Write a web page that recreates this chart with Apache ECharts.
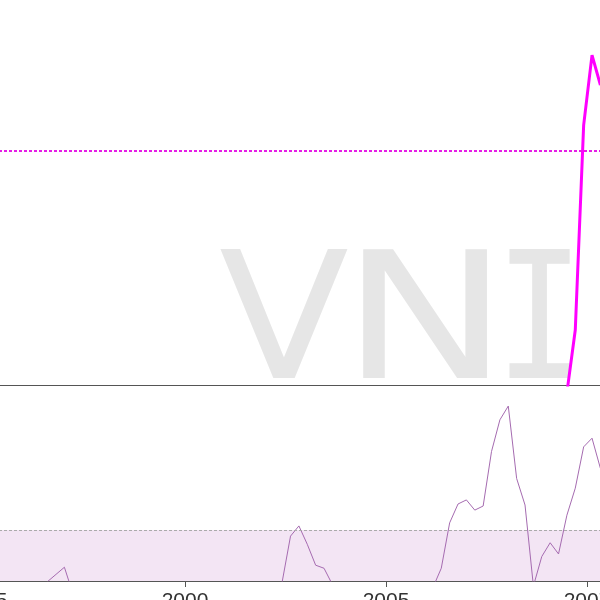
<!DOCTYPE html>
<html><head><meta charset="utf-8">
<script src="https://cdn.jsdelivr.net/npm/echarts@6/dist/echarts.min.js"></script>
<style>html,body{margin:0;padding:0;background:#fff}#c{width:600px;height:600px}</style>
</head><body><div id="c"></div><script>
// time positions (x axis units), one per observation
const tStart = 123, tStep = 5;
// tick labels
const tickValues = [120, 240, 360, 480];
const tickTexts = ['1995', '2000', '2005', '2007'];
// upper panel: index line (values below the panel floor are not visible)
const indexValues = [
 '-','-','-','-','-','-','-','-','-','-',
 '-','-','-','-','-','-','-','-','-','-',
 '-','-','-','-','-','-','-','-','-','-',
 '-','-','-','-','-','-','-','-','-','-',
 '-','-','-','-','-','-','-','-','-','-',
 '-','-','-','-','-','-','-','-','-','-',
 '-','-','-','-','-','-','-','-','-',-2,
 14.3,67.5,85.7,77.9,'-'
];
const indexThreshold = 60.8;
// lower panel oscillator
const oscValues = [
 '-','-','-','-','-','-','-',19.9,21.3,22.7,
 17.6,'-','-','-','-','-','-','-','-','-',
 '-','-','-','-','-','-','-','-','-','-',
 '-','-','-','-','-',19.8,28.8,30.8,27.2,23.1,
 22.5,19.3,'-','-','-','-','-','-','-','-',
 '-','-','-',18.7,22.5,31.4,35.1,35.9,33.9,34.7,
 45.4,51.6,54.3,40.1,34.9,19.0,24.8,27.5,25.3,32.9,
 38.2,46.3,48.0,42.1,39
];
const oscBandLow = 20, oscBandHigh = 30;
const watermark = ['V', 'N', 'I'];

const t = indexValues.map((_, i) => tStart + i * tStep);
const pairs = (arr) => arr.map((v, i) => [t[i], v]);

const chart = echarts.init(document.getElementById('c'));
const xCommon = {type: 'value', min: 120, max: 490, interval: 120, splitLine: {show: false}};
chart.setOption({
  animation: false,
  grid: [
    {left: -16, width: 619.75, top: 0, height: 385, outerBoundsMode: 'none', containLabel: false},
    {left: -16, width: 619.75, top: 377, height: 204, outerBoundsMode: 'none', containLabel: false}
  ],
  xAxis: [
    Object.assign({gridIndex: 0, axisLine: {lineStyle: {color: '#555', width: 1}}, axisTick: {show: false}, axisLabel: {show: false}}, xCommon),
    Object.assign({gridIndex: 1, axisLine: {lineStyle: {color: '#555', width: 1}},
      axisTick: {show: true, length: 6, lineStyle: {color: '#555'}},
      axisLabel: {show: true, margin: 10, fontSize: 21, color: '#333', fontFamily: 'Liberation Sans', hideOverlap: false,
        formatter: (v) => { const k = tickValues.indexOf(v); return k >= 0 ? tickTexts[k] : ''; }}}, xCommon)
  ],
  yAxis: [
    {gridIndex: 0, type: 'value', min: 0, max: 100, show: false},
    {gridIndex: 1, type: 'value', min: 20, max: 60, show: false}
  ],
  graphic: watermark.map((ch, i) => ({
    type: 'text', z: 0,
    x: [284, 425, 539.5][i], y: 328.6, scaleX: [1, 1.18, 0.78][i], scaleY: 0.93, originX: 0, originY: 56.4,
    style: {text: ch, x: 0, y: 0, fill: '#e6e6e6',
      font: '190px ' + (i === 2 ? '"DejaVu Sans Mono"' : '"DejaVu Sans"'),
      textAlign: 'center', textVerticalAlign: 'middle', align: 'center', verticalAlign: 'middle'}
  })),
  series: [
    {type: 'line', xAxisIndex: 0, yAxisIndex: 0, data: pairs(indexValues), symbol: 'none',
      lineStyle: {color: '#ff00ff', width: 3}, z: 3,
      markLine: {silent: true, symbol: 'none', label: {show: false},
        lineStyle: {color: '#e61ee6', type: [3, 2], width: 2}, data: [{yAxis: indexThreshold}]}},
    {type: 'line', xAxisIndex: 1, yAxisIndex: 1, data: pairs(oscValues), symbol: 'none',
      lineStyle: {color: '#a56bb0', width: 1}, z: 3,
      markArea: {silent: true, itemStyle: {color: '#f3e5f4'}, data: [[{yAxis: oscBandLow}, {yAxis: oscBandHigh}]]},
      markLine: {silent: true, symbol: 'none', label: {show: false},
        lineStyle: {color: '#aaa', type: [3, 2], width: 1}, data: [{yAxis: oscBandHigh}]}}
  ]
});
</script></body></html>
